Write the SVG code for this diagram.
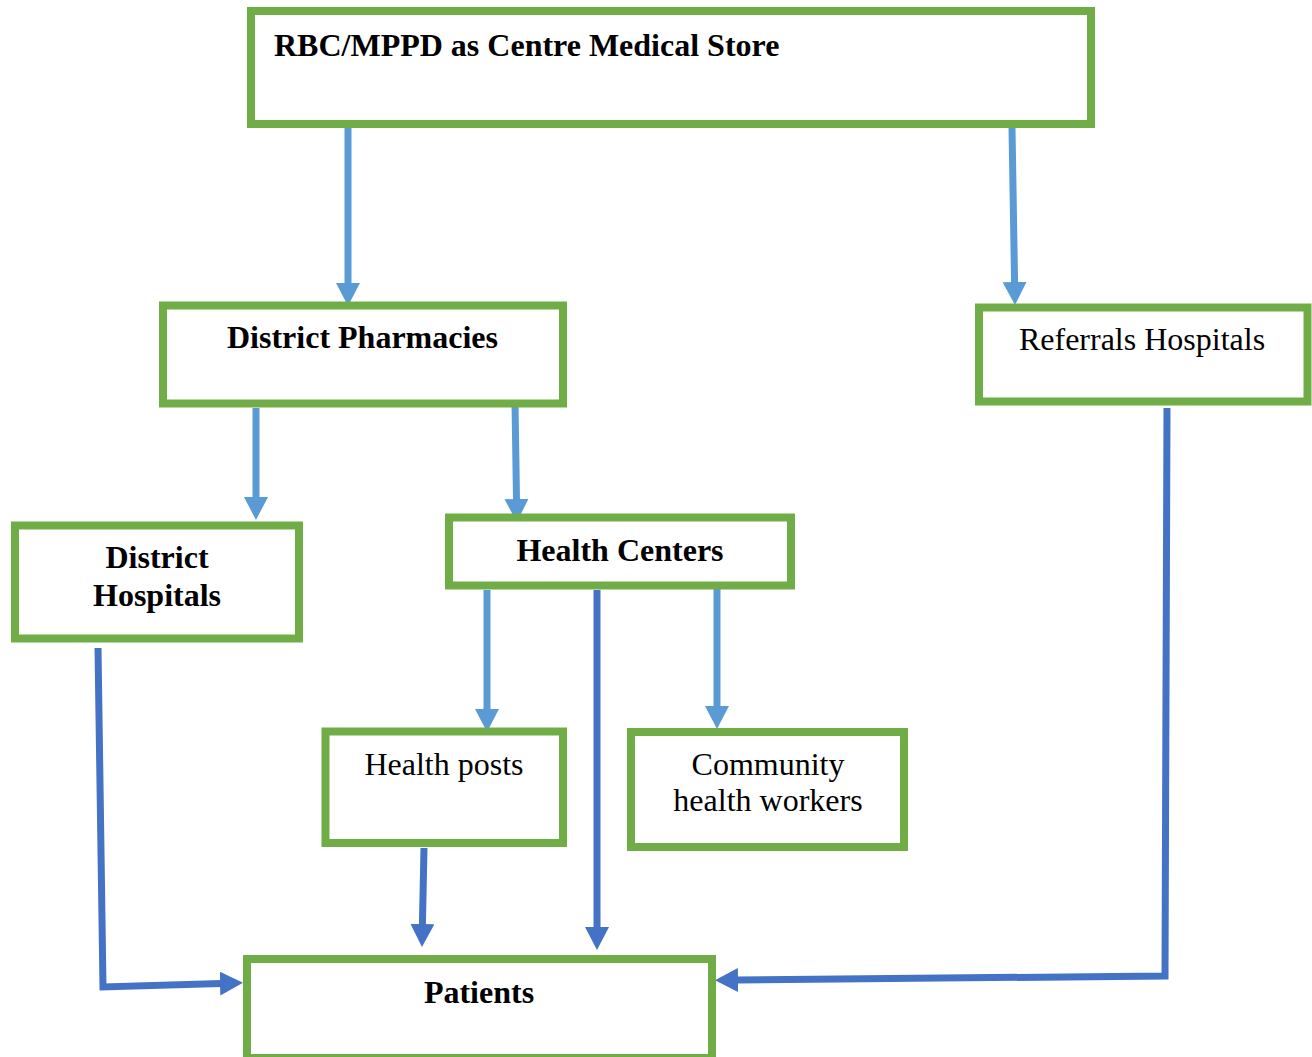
<svg xmlns="http://www.w3.org/2000/svg" width="1312" height="1057" viewBox="0 0 1312 1057">
<style>
.box{fill:#fff;stroke:#70AD47;stroke-width:8}
.t{font-family:"Liberation Serif","Times New Roman",serif;font-size:32px;fill:#000}
.b{font-weight:bold}
.c{text-anchor:middle}
.lb{fill:none;stroke:#5B9BD5;stroke-width:7}
.db{fill:none;stroke:#4472C4;stroke-width:7}
</style>
<defs>
<marker id="ahL" markerUnits="userSpaceOnUse" markerWidth="24" markerHeight="24" refX="1" refY="12" orient="auto"><path d="M0,0 L23,12 L0,24 z" fill="#5B9BD5"/></marker>
<marker id="ahD" markerUnits="userSpaceOnUse" markerWidth="24" markerHeight="24" refX="1" refY="12" orient="auto"><path d="M0,0 L23,12 L0,24 z" fill="#4472C4"/></marker>
</defs>
<rect width="1312" height="1057" fill="#fff"/>
<g id="connectors">
<path class="lb" d="M348,128 L348,284" marker-end="url(#ahL)"/>
<path class="lb" d="M1012,128 L1014.6,283" marker-end="url(#ahL)"/>
<path class="lb" d="M256,408 L256,498" marker-end="url(#ahL)"/>
<path class="lb" d="M515,402 L516.5,500" marker-end="url(#ahL)"/>
<path class="lb" d="M487,590 L487,710" marker-end="url(#ahL)"/>
<path class="lb" d="M717,582 L717,707" marker-end="url(#ahL)"/>
<path class="db" d="M597,590 L597,928" marker-end="url(#ahD)"/>
<path class="db" d="M424,848 L422.4,925" marker-end="url(#ahD)"/>
<path class="db" d="M98,648 L103,987 L221,983.5" marker-end="url(#ahD)"/>
<path class="db" d="M1167,408 L1165,976 L737,980" marker-end="url(#ahD)"/>
</g>
<g id="node-rbc">
<rect class="box" x="251" y="11" width="840" height="113"/>
<text class="t b" x="274" y="56">RBC/MPPD as Centre Medical Store</text>
</g>
<g id="node-district-pharmacies">
<rect class="box" x="163" y="305.5" width="400" height="98"/>
<text class="t b c" x="362.5" y="348">District Pharmacies</text>
</g>
<g id="node-referrals">
<rect class="box" x="979" y="307.5" width="328.5" height="94"/>
<text class="t c" x="1142" y="350">Referrals Hospitals</text>
</g>
<g id="node-district-hospitals">
<rect class="box" x="15" y="525.5" width="284" height="113"/>
<text class="t b c" x="157" y="568">District</text>
<text class="t b c" x="157" y="606">Hospitals</text>
</g>
<g id="node-health-centers">
<rect class="box" x="449" y="517.5" width="342" height="68"/>
<text class="t b c" x="620" y="561">Health Centers</text>
</g>
<g id="node-health-posts">
<rect class="box" x="325.5" y="731.5" width="237.5" height="111.5"/>
<text class="t c" x="444" y="775">Health posts</text>
</g>
<g id="node-chw">
<rect class="box" x="631" y="732" width="273" height="115"/>
<text class="t c" x="768" y="775">Community</text>
<text class="t c" x="768" y="811">health workers</text>
</g>
<g id="node-patients">
<rect class="box" x="247" y="959" width="465" height="99"/>
<text class="t b c" x="479" y="1003">Patients</text>
</g>
</svg>
